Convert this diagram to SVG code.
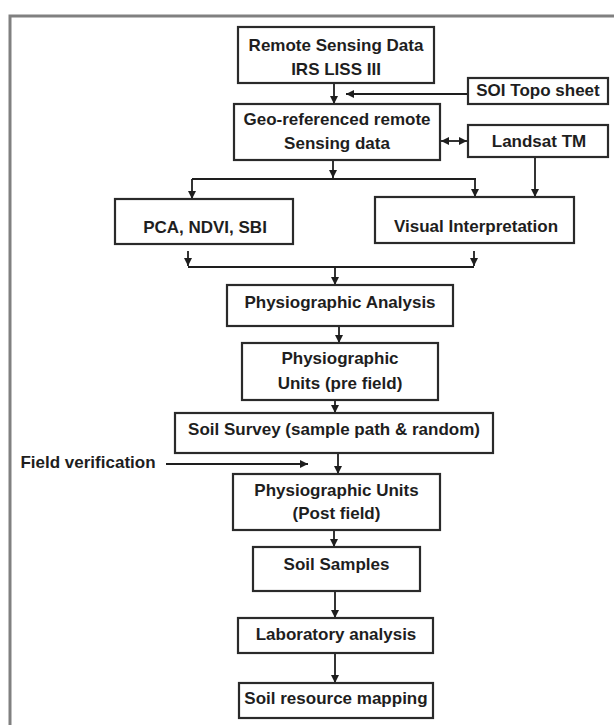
<svg xmlns="http://www.w3.org/2000/svg" width="614" height="725" viewBox="0 0 614 725">
<style>
.box{fill:#fff;stroke:#2a2a2a;stroke-width:2.2}
.t{font-family:"Liberation Sans",Arial,sans-serif;font-weight:bold;font-size:17px;fill:#1e1e1e;text-anchor:middle}
.c{fill:none;stroke:#1e1e1e;stroke-width:1.8}
</style>
<defs>
<marker id="ah" viewBox="0 0 10 10" refX="10" refY="5" markerWidth="8" markerHeight="8" markerUnits="userSpaceOnUse" orient="auto-start-reverse">
<path d="M0,0 L10,5 L0,10 z" fill="#1e1e1e"/>
</marker>
</defs>
<rect width="614" height="725" fill="#fff"/>
<path d="M10,725 V16 H614" fill="none" stroke="#808080" stroke-width="3"/>
<g id="connectors">
<line class="c" x1="334" y1="83" x2="334" y2="104" marker-end="url(#ah)"/>
<line class="c" x1="468" y1="94" x2="346" y2="94" marker-end="url(#ah)"/>
<line class="c" x1="441" y1="141" x2="467" y2="141" marker-start="url(#ah)" marker-end="url(#ah)"/>
<line class="c" x1="333" y1="160" x2="333" y2="178" marker-end="url(#ah)"/>
<line class="c" x1="192" y1="179" x2="476" y2="179"/>
<line class="c" x1="192" y1="179" x2="192" y2="199" marker-end="url(#ah)"/>
<line class="c" x1="475" y1="179" x2="475" y2="197" marker-end="url(#ah)"/>
<line class="c" x1="535" y1="157" x2="535" y2="197" marker-end="url(#ah)"/>
<line class="c" x1="188" y1="251" x2="188" y2="266" marker-end="url(#ah)"/>
<line class="c" x1="474" y1="251" x2="474" y2="266" marker-end="url(#ah)"/>
<line class="c" x1="188" y1="267" x2="474" y2="267"/>
<line class="c" x1="335" y1="267" x2="335" y2="285" marker-end="url(#ah)"/>
<line class="c" x1="339" y1="326" x2="339" y2="343" marker-end="url(#ah)"/>
<line class="c" x1="335" y1="400" x2="335" y2="413" marker-end="url(#ah)"/>
<line class="c" x1="166" y1="464" x2="308" y2="464" marker-end="url(#ah)"/>
<line class="c" x1="338" y1="453" x2="338" y2="474" marker-end="url(#ah)"/>
<line class="c" x1="334" y1="530" x2="334" y2="547" marker-end="url(#ah)"/>
<line class="c" x1="335" y1="591" x2="335" y2="618" marker-end="url(#ah)"/>
<line class="c" x1="335" y1="653" x2="335" y2="683" marker-end="url(#ah)"/>
</g>
<g id="remote"><rect class="box" x="238" y="27" width="196" height="56"/><text class="t" x="336" y="51">Remote Sensing Data</text><text class="t" x="336" y="75">IRS LISS III</text></g>
<g id="soi"><rect class="box" x="468" y="78" width="140" height="26"/><text class="t" x="538" y="96">SOI Topo sheet</text></g>
<g id="geo"><rect class="box" x="234" y="104" width="206" height="56"/><text class="t" x="337" y="125">Geo-referenced remote</text><text class="t" x="337" y="149">Sensing data</text></g>
<g id="landsat"><rect class="box" x="468" y="125" width="140" height="32"/><text class="t" x="539" y="147">Landsat TM</text></g>
<g id="pca"><rect class="box" x="115" y="199" width="178" height="45"/><text class="t" x="205" y="233">PCA, NDVI, SBI</text></g>
<g id="visual"><rect class="box" x="375" y="197" width="199" height="46"/><text class="t" x="476" y="232">Visual Interpretation</text></g>
<g id="physio-analysis"><rect class="box" x="227" y="285" width="226" height="41"/><text class="t" x="340" y="308">Physiographic Analysis</text></g>
<g id="physio-pre"><rect class="box" x="242" y="343" width="196" height="57"/><text class="t" x="340" y="364">Physiographic</text><text class="t" x="340" y="389">Units (pre field)</text></g>
<g id="soil-survey"><rect class="box" x="175" y="413" width="318" height="40"/><text class="t" x="334" y="435">Soil Survey (sample path &amp; random)</text></g>
<g id="field-verification"><text class="t" x="88" y="468">Field verification</text></g>
<g id="physio-post"><rect class="box" x="233" y="474" width="207" height="56"/><text class="t" x="336.5" y="496">Physiographic Units</text><text class="t" x="336.5" y="519">(Post field)</text></g>
<g id="soil-samples"><rect class="box" x="253" y="547" width="167" height="44"/><text class="t" x="336.5" y="570">Soil Samples</text></g>
<g id="lab"><rect class="box" x="238" y="618" width="195" height="35"/><text class="t" x="336" y="640">Laboratory analysis</text></g>
<g id="mapping"><rect class="box" x="239" y="683" width="194" height="35"/><text class="t" x="336" y="704">Soil resource mapping</text></g>
</svg>
